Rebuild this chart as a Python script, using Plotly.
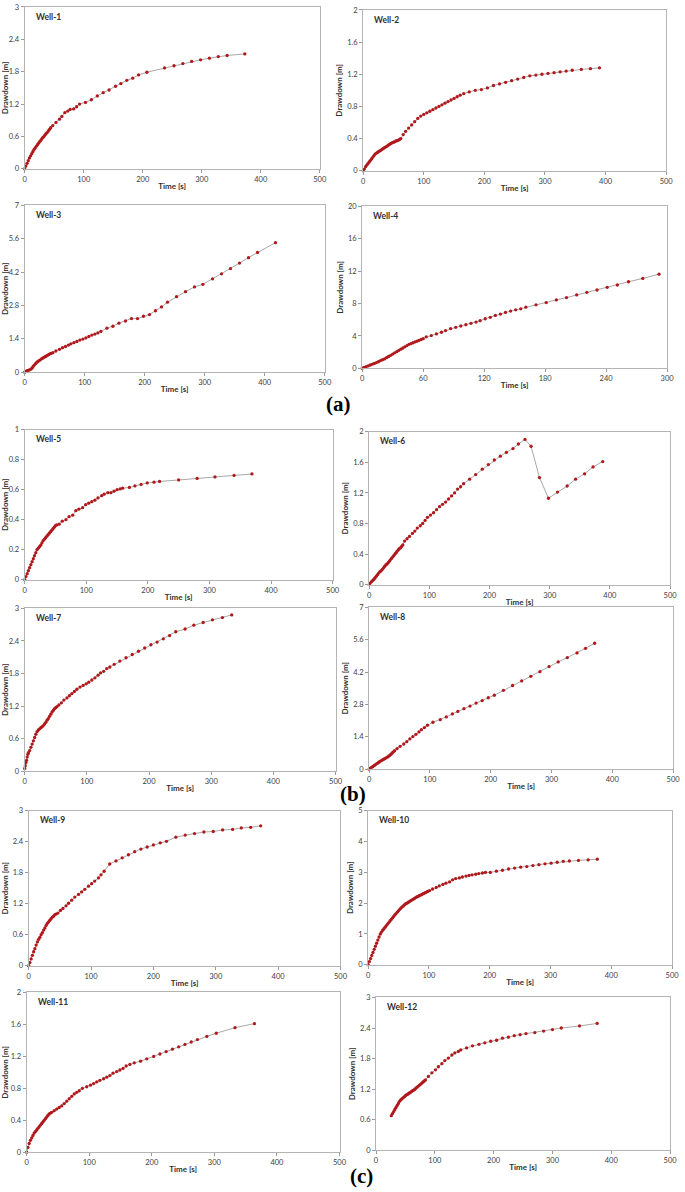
import plotly.graph_objects as go

W = 685
H = 1192

# ---------------- data (time [s], drawdown [m]) ----------------
T1 = [0, 2, 4, 6, 8, 10, 12, 14, 16, 18, 20, 22, 24, 26, 28, 30, 32, 34, 36, 38, 40, 42, 44,
      47.5, 53, 59, 63, 68, 73, 77, 83, 88, 93, 103, 113, 123, 133, 143, 154, 163, 173, 183, 193,
      207, 237, 253, 268, 283, 298, 313, 328, 343, 373]
S1 = [0, 0.05, 0.1, 0.15, 0.2, 0.24, 0.28, 0.32, 0.36, 0.39, 0.42, 0.45, 0.48, 0.51, 0.54, 0.57, 0.59,
      0.62, 0.65, 0.67, 0.7, 0.73, 0.76,
      0.80, 0.86, 0.92, 0.97, 1.04, 1.07, 1.10, 1.11, 1.15, 1.20, 1.23, 1.28, 1.35, 1.41, 1.46, 1.53,
      1.58, 1.64, 1.68, 1.74, 1.79, 1.87, 1.91, 1.95, 1.99, 2.02, 2.05, 2.08, 2.10, 2.13]

T2 = [0, 2, 4, 6, 8, 10, 12, 14, 16, 18, 20, 22, 24, 26, 28, 30, 32, 34, 36, 38, 40, 42, 44, 46, 48,
      50, 52, 54, 56, 58, 60,
      62, 66, 70, 75, 80, 85, 90, 95, 100, 105, 110, 115, 120, 125, 130, 135, 140, 145, 150, 155, 160,
      166, 175, 185, 195, 205, 215, 225, 235, 245, 255, 265, 275, 285, 295, 305, 315, 325, 335, 345,
      360, 375, 390]
S2 = [0, 0.02, 0.05, 0.07, 0.09, 0.11, 0.13, 0.15, 0.17, 0.19, 0.21, 0.22, 0.23, 0.24, 0.25, 0.26,
      0.27, 0.28, 0.29, 0.30, 0.31, 0.32, 0.33, 0.34, 0.35, 0.355, 0.36, 0.37, 0.375, 0.38, 0.39,
      0.40, 0.45, 0.49, 0.53, 0.57, 0.61, 0.65, 0.68, 0.70, 0.72, 0.74, 0.76, 0.78, 0.80, 0.82, 0.84,
      0.86, 0.88, 0.90, 0.92, 0.94,
      0.96, 0.98, 1.00, 1.01, 1.03, 1.06, 1.08, 1.10, 1.12, 1.14, 1.16, 1.18, 1.19, 1.20, 1.21, 1.22,
      1.23, 1.24, 1.25, 1.26, 1.27, 1.28]

T3 = [0, 2, 4, 6, 8, 10, 12, 14, 16, 18, 20, 22, 24, 26, 28, 30, 32, 34, 36, 38, 40, 42, 44,
      47, 52, 58, 63, 68, 73, 77, 82, 87, 92, 97, 102, 107, 112, 117, 122, 127, 137, 147, 157, 168,
      178, 188, 198, 208, 218, 228, 238, 253, 268, 283, 297, 313, 328, 343, 358, 373, 388, 418]
S3 = [0, 0.03, 0.06, 0.08, 0.1, 0.12, 0.17, 0.24, 0.3, 0.36, 0.41, 0.45, 0.49, 0.52, 0.56, 0.59,
      0.62, 0.65, 0.68, 0.71, 0.74, 0.77, 0.79,
      0.82, 0.89, 0.96, 1.03, 1.08, 1.14, 1.19, 1.24, 1.29, 1.35, 1.39, 1.44, 1.50, 1.56, 1.60, 1.65,
      1.71, 1.85, 1.93, 2.06, 2.15, 2.25, 2.25, 2.35, 2.42, 2.58, 2.74, 2.94, 3.17, 3.38, 3.58, 3.69,
      3.92, 4.13, 4.35, 4.58, 4.81, 5.03, 5.44]

T4 = [0, 2, 4, 6, 8, 10, 12, 14, 16, 18, 20, 22, 24, 26, 28, 30, 32, 34, 36, 38, 40, 42, 44, 46, 48,
      50, 52, 54, 56, 58, 60,
      63, 68, 73, 78, 82, 87, 92, 97, 102, 107, 112, 116, 121, 126, 131, 136, 141, 146, 151, 156, 161,
      171, 181, 191, 201, 211, 221, 231, 241, 251, 262, 276, 292]
S4 = [0, 0.1, 0.2, 0.3, 0.4, 0.5, 0.6, 0.7, 0.8, 0.95, 1.05, 1.15, 1.3, 1.45, 1.6, 1.75, 1.9, 2.05,
      2.2, 2.35, 2.5, 2.65, 2.8, 2.95, 3.05, 3.15, 3.25, 3.35, 3.45, 3.55, 3.65,
      3.88, 4.04, 4.24, 4.45, 4.65, 4.90, 5.06, 5.22, 5.39, 5.55, 5.71, 5.88, 6.12, 6.29, 6.53, 6.69,
      6.90, 7.06, 7.22, 7.35, 7.55, 7.84, 8.12, 8.45, 8.73, 9.06, 9.39, 9.67, 10.0, 10.29, 10.69,
      11.1, 11.63]

T5 = [0, 2, 4, 6, 8, 10, 12, 14, 16, 18, 20, 22, 24, 26, 28, 30, 32, 34, 36, 38, 40, 42, 44, 46, 48,
      50, 52,
      56, 61, 67, 72, 78, 83, 88, 94, 99, 104, 109, 114, 119, 125, 129, 135, 140, 145, 150, 155, 159,
      170, 179, 189, 199, 210, 219, 250, 280, 309, 340, 369]
S5 = [0, 0.02, 0.04, 0.06, 0.08, 0.1, 0.12, 0.14, 0.16, 0.18, 0.2, 0.21, 0.22, 0.23, 0.245, 0.26,
      0.27, 0.28, 0.29, 0.3, 0.31, 0.32, 0.33, 0.34, 0.35, 0.36, 0.365,
      0.37, 0.39, 0.40, 0.42, 0.43, 0.46, 0.47, 0.48, 0.50, 0.51, 0.52, 0.53, 0.545, 0.56, 0.57, 0.58,
      0.58, 0.59, 0.60, 0.605, 0.61, 0.615, 0.625, 0.635, 0.645, 0.65, 0.655, 0.665, 0.675, 0.685,
      0.695, 0.705]

T6 = [0, 2, 4, 6, 8, 10, 12, 14, 16, 18, 20, 22, 24, 26, 28, 30, 32, 34, 36, 38, 40, 42, 44, 46, 48,
      50, 52, 54, 56,
      59, 63, 67, 72, 76, 80, 85, 89, 93, 97, 102, 107, 112, 117, 122, 127, 132, 137, 142, 147, 152,
      157, 167, 177, 188, 198, 208, 218, 228, 239, 248, 259, 269, 283, 298, 313, 329, 343, 358, 372, 388]
S6 = [0, 0.02, 0.04, 0.055, 0.07, 0.09, 0.11, 0.13, 0.15, 0.17, 0.18, 0.2, 0.22, 0.24, 0.26, 0.27,
      0.29, 0.31, 0.33, 0.35, 0.37, 0.39, 0.41, 0.43, 0.45, 0.47, 0.48, 0.5, 0.52,
      0.57, 0.60, 0.63, 0.67, 0.70, 0.74, 0.77, 0.80, 0.84, 0.88, 0.91, 0.94, 0.98, 1.02, 1.05, 1.08,
      1.12, 1.16, 1.20, 1.25, 1.28, 1.32, 1.38, 1.44, 1.51, 1.57, 1.63, 1.68, 1.73, 1.78, 1.84, 1.90,
      1.81, 1.40, 1.13, 1.21, 1.29, 1.38, 1.45, 1.54, 1.61]

T7 = [0, 1, 2, 3, 4, 5, 6, 8, 10, 12, 14, 16, 18, 20, 22, 24, 26, 28, 30, 32, 34, 36, 38, 40, 42, 44,
      46, 48, 50, 52,
      55, 59, 63, 68, 72, 76, 80, 84, 89, 94, 99, 103, 108, 113, 118, 122, 127, 132, 137, 144, 153,
      163, 173, 183, 193, 203, 213, 223, 233, 243, 258, 272, 287, 302, 318, 333]
S7 = [0.05, 0.1, 0.16, 0.2, 0.26, 0.31, 0.34, 0.38, 0.44, 0.5, 0.56, 0.62, 0.68, 0.73, 0.76, 0.78,
      0.8, 0.82, 0.84, 0.87, 0.9, 0.94, 0.97, 1.01, 1.05, 1.09, 1.12, 1.15, 1.17, 1.19,
      1.22, 1.26, 1.31, 1.35, 1.39, 1.43, 1.47, 1.51, 1.55, 1.58, 1.61, 1.64, 1.68, 1.72, 1.77, 1.81,
      1.84, 1.89, 1.92, 1.97, 2.03, 2.09, 2.15, 2.21, 2.27, 2.33, 2.38, 2.44, 2.50, 2.57, 2.62, 2.69,
      2.74, 2.79, 2.83, 2.88]

T8 = [0, 2, 4, 6, 8, 10, 12, 14, 16, 18, 20, 22, 24, 26, 28, 30, 32, 34, 36, 38, 40, 42,
      46, 51, 57, 62, 67, 72, 77, 82, 86, 91, 96, 105, 117, 127, 137, 146, 156, 166, 176, 186, 196,
      206, 221, 236, 251, 266, 281, 296, 311, 326, 342, 356, 371]
S8 = [0, 0.04, 0.08, 0.11, 0.15, 0.19, 0.23, 0.26, 0.3, 0.34, 0.37, 0.4, 0.43, 0.46, 0.49, 0.52,
      0.56, 0.6, 0.65, 0.7, 0.75, 0.8,
      0.89, 0.99, 1.09, 1.19, 1.31, 1.41, 1.51, 1.61, 1.71, 1.80, 1.90, 2.03, 2.14, 2.26, 2.39, 2.50,
      2.62, 2.73, 2.86, 2.97, 3.09, 3.20, 3.41, 3.62, 3.82, 4.02, 4.22, 4.44, 4.64, 4.83, 5.03, 5.23,
      5.45]

T9 = [0, 2, 4, 6, 8, 10, 12, 14, 16, 18, 20, 22, 24, 26, 28, 30, 32, 34, 36, 38, 40, 42, 44,
      47, 51, 55, 60, 64, 69, 74, 80, 85, 90, 96, 101, 106, 112, 116, 121, 130, 140, 150, 160, 170,
      180, 190, 200, 211, 221, 236, 251, 266, 281, 296, 311, 327, 341, 356, 372]
S9 = [0, 0.06, 0.13, 0.2, 0.27, 0.33, 0.4, 0.46, 0.51, 0.55, 0.6, 0.64, 0.69, 0.73, 0.78, 0.82,
      0.85, 0.88, 0.91, 0.94, 0.96, 0.99, 1.0,
      1.02, 1.07, 1.11, 1.16, 1.21, 1.27, 1.33, 1.38, 1.43, 1.48, 1.54, 1.59, 1.64, 1.70, 1.76, 1.83,
      1.97, 2.03, 2.09, 2.15, 2.21, 2.26, 2.30, 2.34, 2.38, 2.41, 2.49, 2.53, 2.56, 2.59, 2.60, 2.63,
      2.64, 2.67, 2.68, 2.71]

T10 = [0, 2, 4, 6, 8, 10, 12, 14, 16, 18, 20, 22, 24, 26, 28, 30, 32, 34, 36, 38, 40, 42, 44, 46, 48,
       50, 52, 54, 56, 58, 60, 62, 64, 66, 68, 70, 72, 74, 76, 78, 80, 82, 84, 86, 88, 90, 92, 94, 96,
       98, 101,
       106, 112, 117, 123, 128, 134, 139, 144, 150, 155, 161, 166, 171, 177, 182, 188, 193, 201, 211,
       221, 231, 241, 251, 261, 271, 281, 291, 301, 311, 321, 331, 346, 362, 377]
S10 = [0, 0.1, 0.2, 0.3, 0.4, 0.5, 0.6, 0.7, 0.8, 0.9, 1.0, 1.06, 1.12, 1.17, 1.22, 1.27, 1.32, 1.37,
       1.42, 1.47, 1.52, 1.57, 1.62, 1.66, 1.71, 1.75, 1.8, 1.84, 1.88, 1.91, 1.95, 1.98, 2.0, 2.03,
       2.05, 2.08, 2.1, 2.13, 2.15, 2.18, 2.2, 2.22, 2.24, 2.26, 2.28, 2.3, 2.32, 2.34, 2.36, 2.38,
       2.41,
       2.46, 2.51, 2.56, 2.61, 2.65, 2.69, 2.76, 2.80, 2.82, 2.85, 2.88, 2.90, 2.92, 2.94, 2.96, 2.98,
       3.00, 3.00, 3.04, 3.07, 3.11, 3.14, 3.17, 3.19, 3.22, 3.25, 3.28, 3.30, 3.33, 3.36, 3.37, 3.39,
       3.41, 3.43]

T11 = [0, 2, 4, 6, 8, 10, 12, 14, 16, 18, 20, 22, 24, 26, 28, 30, 32, 34, 36, 38, 40, 44, 48, 52,
       56, 60, 64, 68, 72, 76, 80, 84,
       89, 96, 102, 107, 112, 117, 123, 128, 133, 138, 144, 149, 154, 159, 165, 172, 182, 192, 203,
       213, 223, 233, 243, 253, 263, 273, 288, 303, 333, 364]
S11 = [0, 0.06, 0.11, 0.15, 0.18, 0.21, 0.24, 0.26, 0.28, 0.3, 0.32, 0.34, 0.36, 0.38, 0.4, 0.42,
       0.44, 0.46, 0.48, 0.49, 0.5, 0.52, 0.54, 0.56, 0.58, 0.61, 0.64, 0.67, 0.7, 0.73, 0.75, 0.77,
       0.80, 0.82, 0.84, 0.86, 0.88, 0.90, 0.92, 0.94, 0.96, 0.99, 1.01, 1.03, 1.05, 1.08, 1.10, 1.12,
       1.14, 1.17, 1.20, 1.23, 1.26, 1.29, 1.32, 1.35, 1.38, 1.41, 1.45, 1.49, 1.56, 1.61]

T12 = [26, 28, 30, 32, 34, 36, 38, 40, 42, 44, 46, 48, 50, 52, 54, 56, 58, 60, 62, 64, 66, 68, 70,
       72, 74, 76, 78, 80, 82, 84,
       89, 95, 101, 106, 112, 117, 123, 129, 134, 140, 144, 154, 164, 175, 185, 195, 205, 215, 225,
       235, 245, 255, 270, 285, 300, 315, 346, 376]
S12 = [0.68, 0.72, 0.76, 0.8, 0.84, 0.88, 0.92, 0.96, 0.99, 1.01, 1.03, 1.05, 1.07, 1.09, 1.1, 1.12,
       1.13, 1.15, 1.17, 1.18, 1.2, 1.22, 1.24, 1.26, 1.28, 1.3, 1.32, 1.34, 1.36, 1.38,
       1.45, 1.52, 1.58, 1.64, 1.70, 1.76, 1.81, 1.87, 1.91, 1.94, 1.97, 2.01, 2.05, 2.08, 2.11, 2.14,
       2.16, 2.20, 2.22, 2.25, 2.27, 2.29, 2.31, 2.34, 2.37, 2.40, 2.44, 2.49]

WELL_NAMES = ["Well-1", "Well-2", "Well-3", "Well-4", "Well-5", "Well-6",
              "Well-7", "Well-8", "Well-9", "Well-10", "Well-11", "Well-12"]
X_MAX = [500, 500, 500, 300, 500, 500, 500, 500, 500, 500, 500, 500]
X_STEP = [100, 100, 100, 60, 100, 100, 100, 100, 100, 100, 100, 100]
Y_MAX = [3, 2, 7, 20, 1, 2, 3, 7, 3, 5, 2, 3]
Y_STEP = [0.6, 0.4, 1.4, 4, 0.2, 0.4, 0.6, 1.4, 0.6, 1, 0.4, 0.6]
PANEL_LABELS = ["(a)", "(b)", "(c)"]

SERIES = [(T1, S1), (T2, S2), (T3, S3), (T4, S4), (T5, S5), (T6, S6),
          (T7, S7), (T8, S8), (T9, S9), (T10, S10), (T11, S11), (T12, S12)]

# panel rectangles in pixels: left, top, right, bottom
RECTS = [(23, 3, 322, 166), (366, 6, 673, 168),
         (23, 203, 327, 371), (365, 204, 674, 367),
         (23, 429, 335, 580), (372, 431, 677, 585),
         (23, 609, 338, 773), (372, 608, 680, 771),
         (27, 813, 343, 969), (371, 813, 679, 968),
         (25, 996, 342, 1157), (379, 1001, 677, 1155)]
LABEL_POS = [(341, 403), (356, 796), (364, 1181)]

FONT = "Lato, 'Open Sans', sans-serif"

fig = go.Figure()
layout = {}
annotations = []

for i, ((t, s), (l, tp, r, b)) in enumerate(zip(SERIES, RECTS)):
    n = i + 1
    xa = "x" if n == 1 else f"x{n}"
    ya = "y" if n == 1 else f"y{n}"
    fig.add_trace(go.Scatter(
        x=t, y=s, xaxis=xa, yaxis=ya, mode="lines+markers",
        line=dict(color="#a8a8a8", width=1),
        marker=dict(color="#b0181c", size=3.3, line=dict(width=0)),
        cliponaxis=False, showlegend=False, hoverinfo="skip"))
    ystep = Y_STEP[i]
    nticks = int(round(Y_MAX[i] / ystep))
    yvals = [round(k * ystep, 2) for k in range(nticks + 1)]
    ytext = [("%g" % v) for v in yvals]
    xvals = list(range(0, X_MAX[i] + 1, X_STEP[i]))
    common = dict(showline=True, linecolor="#b4b4b4", linewidth=1, mirror=True,
                  showgrid=False, zeroline=False, ticks="outside", ticklen=3,
                  tickcolor="#9a9a9a", tickwidth=1,
                  tickfont=dict(size=7.5, color="#404040", family=FONT))
    layout["xaxis" if n == 1 else f"xaxis{n}"] = dict(
        domain=[l / W, r / W], anchor=ya, range=[0, X_MAX[i]],
        tickvals=xvals, ticktext=[str(v) for v in xvals],
        title=dict(text="<b>Time [s]</b>", font=dict(size=8, color="#303030", family=FONT),
                   standoff=0),
        **common)
    layout["yaxis" if n == 1 else f"yaxis{n}"] = dict(
        domain=[1 - b / H, 1 - tp / H], anchor=xa, range=[0, Y_MAX[i]],
        tickvals=yvals, ticktext=ytext,
        title=dict(text="<b>Drawdown [m]</b>", font=dict(size=8, color="#303030", family=FONT),
                   standoff=3),
        **common)
    annotations.append(dict(
        text="<b>" + WELL_NAMES[i] + "</b>", xref=f"{xa} domain", yref=f"{ya} domain",
        x=0.03, y=0.94, xanchor="left", yanchor="middle", showarrow=False,
        font=dict(size=8.5, color="#303030", family=FONT)))

for txt, (px, py) in zip(PANEL_LABELS, LABEL_POS):
    annotations.append(dict(
        text="<b>" + txt + "</b>", xref="paper", yref="paper",
        x=px / W, y=1 - py / H, xanchor="center", yanchor="middle", showarrow=False,
        font=dict(size=21, color="#000000", family="'Liberation Serif', 'DejaVu Serif', serif")))

fig.update_layout(
    width=W, height=H, margin=dict(l=0, r=0, t=0, b=0),
    paper_bgcolor="white", plot_bgcolor="white",
    annotations=annotations, **layout)

fig.write_html("out.html", config={"displayModeBar": False},
               post_script="document.body.style.margin='0';document.body.style.overflow='hidden';")
